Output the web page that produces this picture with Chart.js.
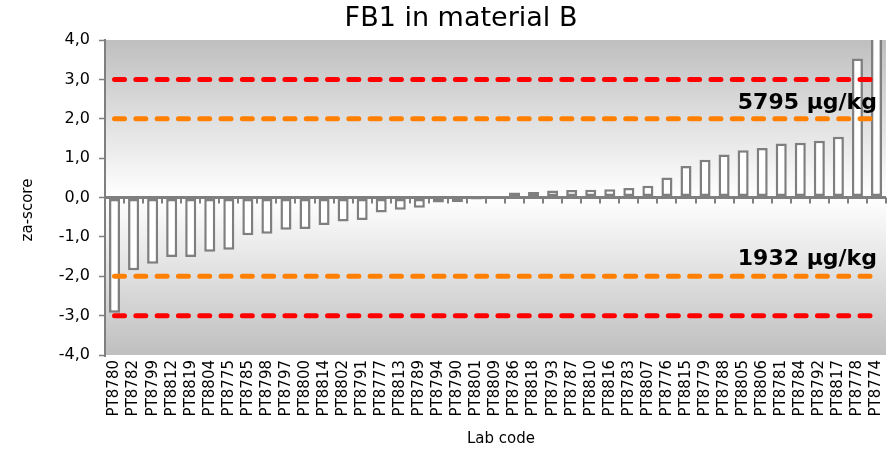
<!DOCTYPE html>
<html>
<head>
<meta charset="utf-8">
<title>FB1 in material B</title>
<script src="https://cdn.jsdelivr.net/npm/chart.js@4/dist/chart.umd.min.js"></script>
<style>
    html, body { margin: 0; padding: 0; background: #ffffff; }
    #wrap { width: 893px; height: 452px; }
</style>
</head>
<body>
<div id="wrap"><canvas id="zaChart" width="893" height="452"></canvas></div>
<script>
// Data
const labCodes = ['PT8780', 'PT8782', 'PT8799', 'PT8812', 'PT8819', 'PT8804', 'PT8775', 'PT8785', 'PT8798', 'PT8797',
    'PT8800', 'PT8814', 'PT8802', 'PT8791', 'PT8777', 'PT8813', 'PT8789', 'PT8794', 'PT8790', 'PT8801',
    'PT8809', 'PT8786', 'PT8818', 'PT8793', 'PT8787', 'PT8810', 'PT8816', 'PT8783', 'PT8807', 'PT8776',
    'PT8815', 'PT8779', 'PT8788', 'PT8805', 'PT8806', 'PT8781', 'PT8784', 'PT8792', 'PT8817', 'PT8778',
    'PT8774'];
const zaScores = [-2.93, -1.85, -1.68, -1.51, -1.51, -1.38, -1.33, -0.96, -0.92, -0.82,
    -0.80, -0.70, -0.61, -0.57, -0.38, -0.31, -0.26, -0.13, -0.12, -0.05,
    -0.02, 0.13, 0.14, 0.18, 0.19, 0.20, 0.21, 0.24, 0.30, 0.51,
    0.80, 0.96, 1.09, 1.20, 1.26, 1.37, 1.39, 1.44, 1.54, 3.53,
    6.5];
const yTicks = [-4, -3, -2, -1, 0, 1, 2, 3, 4];
const warnLimit = 2;
const actionLimit = 3;
const chartTitle = 'FB1 in material B';
const xTitle = 'Lab code';
const yTitle = 'za-score';
const upperLabel = '5795 µg/kg';
const lowerLabel = '1932 µg/kg';

const FONT = "'DejaVu Sans', Verdana, sans-serif";
const AXIS_GREY = '#7f7f7f';

document.addEventListener('DOMContentLoaded', function() {
    const ctx = document.getElementById('zaChart');

    // limit lines across all labs
    const limitLine = (value, color) => ({
        type: 'line',
        data: labCodes.map(() => value),
        borderColor: color,
        borderWidth: 5,
        borderDash: [10, 11.3],
        borderCapStyle: 'round',
        pointRadius: 0,
        fill: false,
        order: 0
    });

    // Gradient background of the plot area + titles
    const plotBackground = {
        id: 'plotBackground',
        beforeDraw(chart) {
            const { ctx, chartArea: a } = chart;
            const g = ctx.createLinearGradient(0, a.top, 0, a.bottom);
            g.addColorStop(0, '#bfbfbf');
            g.addColorStop(0.5, '#ffffff');
            g.addColorStop(1, '#bfbfbf');
            ctx.save();
            ctx.fillStyle = g;
            ctx.fillRect(a.left, a.top, a.right - a.left, a.bottom - a.top);

            // titles placed where the original has them (not quite centred)
            ctx.fillStyle = '#000000';
            ctx.textAlign = 'center';
            ctx.textBaseline = 'middle';
            ctx.font = '27px ' + FONT;
            ctx.fillText(chartTitle, 461, 19);
            ctx.font = '15px ' + FONT;
            ctx.fillText(xTitle, 501, 439);
            ctx.translate(28, 210);
            ctx.rotate(-Math.PI / 2);
            ctx.fillText(yTitle, 0, 0);
            ctx.restore();
        }
    };

    // Small ticks between labs on the zero line + limit notes
    const zeroAxis = {
        id: 'zeroAxis',
        afterDraw(chart) {
            const { ctx, chartArea: a, scales } = chart;
            const y0 = scales.y.getPixelForValue(0);
            const step = (a.right - a.left) / labCodes.length;
            ctx.save();
            ctx.setLineDash([]);
            ctx.lineCap = 'butt';
            ctx.strokeStyle = AXIS_GREY;
            ctx.lineWidth = 3;
            ctx.beginPath();
            ctx.moveTo(a.left, y0);
            ctx.lineTo(a.right, y0);
            ctx.stroke();

            ctx.lineWidth = 2;
            ctx.beginPath();
            for (let i = 1; i <= labCodes.length; i++) {
                const x = Math.round(a.left + step * i);
                ctx.moveTo(x, y0);
                ctx.lineTo(x, y0 + 6);
            }
            ctx.stroke();

            ctx.fillStyle = '#000000';
            ctx.font = 'bold 22px ' + FONT;
            ctx.textAlign = 'right';
            ctx.textBaseline = 'middle';
            ctx.fillText(upperLabel, a.right - 9, scales.y.getPixelForValue(warnLimit) - 15);
            ctx.fillText(lowerLabel, a.right - 9, scales.y.getPixelForValue(-warnLimit) - 17);
            ctx.restore();
        }
    };

    new Chart(ctx, {
        type: 'bar',
        data: {
            labels: labCodes,
            datasets: [
                {
                    label: 'za-score',
                    data: zaScores,
                    backgroundColor: '#ffffff',
                    borderColor: AXIS_GREY,
                    borderWidth: 2.5,
                    borderSkipped: false,
                    barPercentage: 0.58,
                    categoryPercentage: 1.0,
                    order: 1
                },
                limitLine(actionLimit, '#ff0000'),
                limitLine(warnLimit, '#ff8000'),
                limitLine(-warnLimit, '#ff8000'),
                limitLine(-actionLimit, '#ff0000')
            ]
        },
        options: {
            responsive: false,
            animation: false,
            events: [],
            layout: { padding: { left: 0, right: 7, top: 40, bottom: 0 } },
            plugins: {
                legend: { display: false },
                tooltip: { enabled: false },
                title: { display: false }
            },
            scales: {
                x: {
                    grid: { display: false, drawTicks: false },
                    border: { display: false },
                    ticks: {
                        color: '#000000',
                        font: { family: FONT, size: 15 },
                        minRotation: 90,
                        maxRotation: 90,
                        autoSkip: false,
                        padding: 5
                    },
                    afterFit(scale) {
                        scale.height = 97;
                        scale.paddingLeft = 0;
                        scale.paddingRight = 0;
                    }
                },
                y: {
                    min: -4,
                    max: 4,
                    afterBuildTicks(scale) {
                        scale.ticks = yTicks.map(v => ({ value: v }));
                    },
                    grid: {
                        drawOnChartArea: true,
                        color: c => (c.tick && c.tick.value === 0) ? AXIS_GREY : 'rgba(0,0,0,0)',
                        lineWidth: 3,
                        drawTicks: true,
                        tickLength: 6,
                        tickColor: AXIS_GREY,
                        tickWidth: 1.5
                    },
                    border: { display: true, color: AXIS_GREY, width: 2 },
                    ticks: {
                        color: '#000000',
                        font: { family: FONT, size: 16 },
                        padding: 9,
                        callback: v => Number(v).toFixed(1).replace('.', ',')
                    },
                    afterFit(scale) {
                        scale.width = 105;
                        scale.paddingTop = 0;
                        scale.paddingBottom = 0;
                    }
                }
            }
        },
        plugins: [plotBackground, zeroAxis]
    });
});
</script>
</body>
</html>
